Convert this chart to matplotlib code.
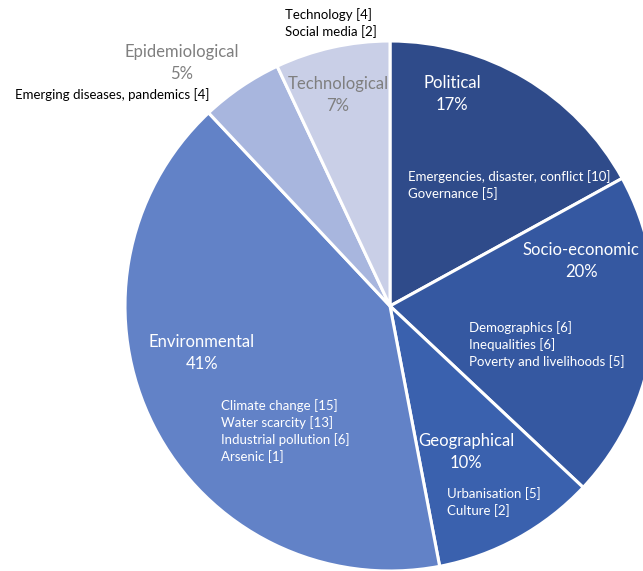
import matplotlib.pyplot as plt

W, H = 643, 571

categories = ['Political', 'Socio-economic', 'Geographical', 'Environmental',
              'Epidemiological', 'Technological']
percents = [17, 20, 10, 41, 5, 7]
colors = ['#2F4B8A', '#3558A1', '#3A61AE', '#6282C7', '#A8B6DE', '#C9CFE7']

subtopics = {
    'Political': ['Emergencies, disaster, conflict [10]', 'Governance [5]'],
    'Socio-economic': ['Demographics [6]', 'Inequalities [6]',
                       'Poverty and livelihoods [5]'],
    'Geographical': ['Urbanisation [5]', 'Culture [2]'],
    'Environmental': ['Climate change [15]', 'Water scarcity [13]',
                      'Industrial pollution [6]', 'Arsenic [1]'],
    'Epidemiological': ['Emerging diseases, pandemics [4]'],
    'Technological': ['Technology [4]', 'Social media [2]'],
}

# label placement in pixels: (title x, title y, title ha, sub x, sub y, colours)
layout = {
    'Political': (452, 83, 'center', 408, 177, 'white', 'white'),
    'Socio-economic': (581, 250, 'center', 469, 328, 'white', 'white'),
    'Geographical': (418, 441, 'left', 447, 494, 'white', 'white'),
    'Environmental': (148, 342, 'left', 221, 406, 'white', 'white'),
    'Epidemiological': (182, 52, 'center', 15, 95, '#7F7F7F', 'black'),
    'Technological': (338, 84, 'center', 285, 15, '#7F7F7F', 'black'),
}

plt.rcParams['font.family'] = ['Lato', 'DejaVu Sans']

fig = plt.figure(figsize=(W / 100, H / 100), dpi=100)
# pie centre ~(390, 306) px, radius ~265 px
ax = fig.add_axes([125 / W, (H - 571) / H, 530 / W, 530 / H])
ax.pie(percents, colors=colors, startangle=90, counterclock=False,
       wedgeprops={'edgecolor': 'white', 'linewidth': 2.2})
ax.set_xlim(-1, 1)
ax.set_ylim(-1, 1)


def px(x, y):
    return x / W, 1 - y / H


for cat, pct in zip(categories, percents):
    tx, ty, ha, sx, sy, tcol, scol = layout[cat]
    if ha == 'left':
        fig.text(*px(tx, ty), cat, ha='left', va='center', fontsize=12,
                 color=tcol)
        # percentage roughly centred under the title
        fig.text(*px(tx + 48 if cat == 'Geographical' else tx + 54, ty + 22),
                 f'{pct}%', ha='center', va='center', fontsize=12, color=tcol)
    else:
        fig.text(*px(tx, ty), cat, ha='center', va='center', fontsize=12,
                 color=tcol)
        fig.text(*px(tx, ty + 22), f'{pct}%', ha='center', va='center',
                 fontsize=12, color=tcol)
    for i, line in enumerate(subtopics[cat]):
        fig.text(*px(sx, sy + 17 * i), line, ha='left', va='center',
                 fontsize=9.5, color=scol)

fig.savefig('out.png', dpi=100)
